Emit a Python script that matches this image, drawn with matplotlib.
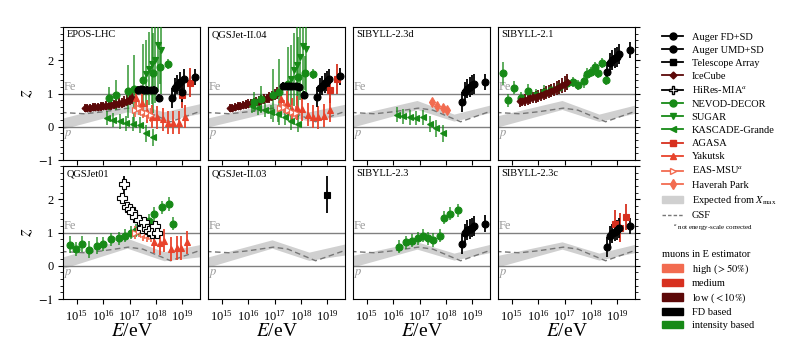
import numpy as np
import matplotlib
matplotlib.use("Agg")
import matplotlib.pyplot as plt
from matplotlib.lines import Line2D
from matplotlib.patches import Patch
from matplotlib.ticker import MultipleLocator, NullLocator, LogLocator

plt.rcParams['font.family'] = ['Liberation Serif', 'DejaVu Serif']
plt.rcParams['mathtext.fontset'] = 'stix'

# ---------------- data (log10 E/eV, z, error) ----------------
models = ['EPOS-LHC', 'QGSJet-II.04', 'SIBYLL-2.3d', 'SIBYLL-2.1',
          'QGSJet01', 'QGSJet-II.03', 'SIBYLL-2.3', 'SIBYLL-2.3c']

# expected from Xmax band (per model) and GSF
band_lgE = [14.4, 16.9, 18.3, 19.8]
band_lo = {
    'EPOS-LHC': [-0.08, 0.45, 0.18, 0.42],
    'QGSJet-II.04': [-0.02, 0.45, 0.17, 0.36],
    'SIBYLL-2.3d': [-0.02, 0.52, 0.17, 0.45],
    'SIBYLL-2.1': [-0.02, 0.52, 0.16, 0.43],
    'QGSJet01': [-0.1, 0.53, 0.15, 0.28],
    'QGSJet-II.03': [-0.06, 0.53, 0.16, 0.34],
    'SIBYLL-2.3': [-0.05, 0.5, 0.17, 0.42],
    'SIBYLL-2.3c': [-0.05, 0.5, 0.17, 0.42],
}
band_hi = {
    'EPOS-LHC': [0.25, 0.75, 0.45, 0.72],
    'QGSJet-II.04': [0.25, 0.72, 0.45, 0.7],
    'SIBYLL-2.3d': [0.33, 0.79, 0.38, 0.68],
    'SIBYLL-2.1': [0.32, 0.79, 0.38, 0.68],
    'QGSJet01': [0.25, 0.83, 0.42, 0.66],
    'QGSJet-II.03': [0.25, 0.78, 0.41, 0.68],
    'SIBYLL-2.3': [0.3, 0.72, 0.38, 0.67],
    'SIBYLL-2.3c': [0.3, 0.72, 0.38, 0.67],
}
gsf_lgE = [14.4, 15.3, 16.0, 16.95, 17.5, 18.55, 19.8]
gsf_z = [0.43, 0.39, 0.45, 0.56, 0.5, 0.15, 0.5]

# IceCube
icecube_lgE = [15.3, 15.4, 15.5, 15.6, 15.7, 15.8, 15.9, 16.0, 16.1, 16.2,
               16.3, 16.4, 16.5, 16.6, 16.7, 16.8, 16.9, 17.0, 17.1]
icecube_z_epos = [0.56, 0.56, 0.57, 0.58, 0.59, 0.60, 0.61, 0.62, 0.63, 0.64,
                  0.65, 0.67, 0.68, 0.70, 0.72, 0.75, 0.78, 0.82, 0.86]
icecube_z_qgs4 = [0.55, 0.57, 0.59, 0.61, 0.63, 0.65, 0.67, 0.69, 0.71, 0.73,
                  0.75, 0.77, 0.80, 0.82, 0.85, 0.88, 0.92, 0.96, 1.01]
icecube_z_sib21 = [0.76, 0.78, 0.80, 0.83, 0.85, 0.88, 0.90, 0.93, 0.96, 0.99,
                   1.02, 1.05, 1.09, 1.12, 1.16, 1.20, 1.25, 1.30, 1.35]
icecube_err = [0.12, 0.12, 0.12, 0.12, 0.12, 0.12, 0.13, 0.13, 0.13, 0.13,
               0.14, 0.14, 0.14, 0.15, 0.15, 0.16, 0.16, 0.17, 0.18]
icecube_err_sib21 = [0.17, 0.17, 0.17, 0.17, 0.17, 0.17, 0.18, 0.18, 0.18, 0.18,
                     0.2, 0.2, 0.2, 0.21, 0.21, 0.22, 0.22, 0.24, 0.25]

# Auger UMD+SD
umd_lgE = [17.3, 17.42, 17.55, 17.67, 17.8, 17.92, 18.12]
umd_z_epos = [1.12, 1.13, 1.12, 1.12, 1.11, 1.10, 0.87]
umd_z_qgs4 = [1.23, 1.24, 1.24, 1.23, 1.22, 1.21, 0.95]
umd_err = [0.12, 0.1, 0.1, 0.1, 0.1, 0.12, 0.12]

# Auger FD+SD
fdsd_lgE = [18.62, 18.71, 18.81, 18.9, 18.97, 19.07, 19.47]
fdsd_z_epos = [0.87, 1.17, 1.27, 1.35, 1.04, 1.43, 1.50]
fdsd_z_qgs4 = [0.89, 1.17, 1.24, 1.32, 1.38, 1.44, 1.52]
fdsd_z_sib23d = [0.74, 1.05, 1.15, 1.19, 1.25, 1.30, 1.35]
fdsd_z_sib21 = [1.64, 1.91, 2.01, 2.08, 2.11, 2.18, 2.31]
fdsd_z_sib23 = [0.65, 0.97, 1.07, 1.11, 1.15, 1.20, 1.27]
fdsd_z_sib23c = [0.57, 0.89, 0.97, 1.03, 1.08, 1.13, 1.19]
fdsd_err = [0.3, 0.3, 0.3, 0.3, 0.3, 0.3, 0.25]

# Telescope Array
ta_lgE = [18.97]
ta_z_qgs3 = [2.14]
ta_err = [0.55]

# HiRes-MIA
hires_lgE = [16.72, 16.8, 16.9, 17.0, 17.1, 17.22, 17.35, 17.45, 17.55, 17.65,
             17.75, 17.85, 17.95, 18.05]
hires_z_qgs01 = [2.05, 2.45, 1.78, 1.72, 1.62, 1.48, 1.38, 1.15, 1.32, 1.1,
                 1.05, 0.98, 1.2, 0.98]
hires_err = [0.15, 0.25, 0.12, 0.12, 0.12, 0.12, 0.12, 0.12, 0.12, 0.12,
             0.12, 0.12, 0.12, 0.12]

# NEVOD-DECOR
nevod_lgE_epos = [16.2, 16.5, 16.95, 17.15, 17.5, 17.9, 18.15, 18.45]
nevod_z_epos = [0.86, 0.95, 1.07, 1.15, 1.4, 1.62, 1.79, 1.9]
nevod_err_epos = [0.35, 0.45, 0.8, 1.0, 1.1, 1.2, 0.5, 0.15]
nevod_lgE_qgs4 = [16.2, 16.5, 16.95, 17.15, 17.5, 17.9, 18.15, 18.45]
nevod_z_qgs4 = [0.75, 0.82, 0.95, 1.05, 1.3, 1.5, 1.62, 1.6]
nevod_err_qgs4 = [0.3, 0.4, 0.8, 1.0, 1.1, 1.2, 0.5, 0.15]
nevod_lgE_sib21 = [14.65, 14.85, 15.09, 15.35, 15.63, 15.9, 16.2, 16.5, 16.8,
                   17.09, 17.32, 17.51, 17.72, 17.85, 18.0, 18.13, 18.25, 18.42, 18.57]
nevod_z_sib21 = [1.61, 0.79, 1.17, 0.85, 1.09, 0.95, 1.05, 1.1, 1.2,
                 1.32, 1.35, 1.27, 1.37, 1.58, 1.66, 1.81, 1.63, 1.91, 1.4]
nevod_err_sib21 = [0.35, 0.2, 0.2, 0.2, 0.2, 0.2, 0.2, 0.2, 0.2,
                   0.2, 0.15, 0.15, 0.2, 0.2, 0.15, 0.15, 0.15, 0.15, 0.15]
nevod_lgE_qgs01 = [14.75, 14.96, 15.19, 15.46, 15.75, 16.0, 16.31, 16.59, 16.84,
                   17.05, 17.25, 17.5, 17.75, 17.94, 18.23, 18.5, 18.63]
nevod_z_qgs01 = [0.63, 0.5, 0.65, 0.48, 0.6, 0.65, 0.8, 0.83, 0.9,
                 1.0, 1.05, 1.15, 1.35, 1.56, 1.76, 1.86, 1.27]
nevod_err_qgs01 = [0.25, 0.2, 0.25, 0.25, 0.25, 0.2, 0.2, 0.2, 0.2,
                   0.2, 0.2, 0.2, 0.2, 0.2, 0.2, 0.2, 0.2]
nevod_lgE_sib23 = [16.2, 16.48, 16.71, 16.92, 17.11, 17.3, 17.49, 17.78, 17.91, 18.15, 18.47]
nevod_z_sib23 = [0.57, 0.7, 0.75, 0.83, 0.9, 0.83, 0.77, 0.9, 1.45, 1.57, 1.67]
nevod_err_sib23 = [0.2, 0.2, 0.2, 0.2, 0.2, 0.2, 0.2, 0.2, 0.2, 0.2, 0.2]

# SUGAR
sugar_lgE = [17.6, 17.72, 17.85, 17.97, 18.08, 18.2]
sugar_z_epos = [1.6, 1.75, 1.88, 2.0, 2.45, 2.3]
sugar_z_qgs4 = [1.45, 1.72, 1.85, 2.1, 2.42, 2.35]
sugar_err = [1.0, 1.1, 1.2, 1.3, 1.4, 1.3]

# KASCADE-Grande
kg_lgE = [16.13, 16.38, 16.63, 16.88, 17.13, 17.38, 17.63, 17.88]
kg_z_epos = [0.26, 0.2, 0.16, 0.1, 0.08, 0.05, -0.2, -0.32]
kg_z_qgs4 = [0.62, 0.56, 0.5, 0.44, 0.37, 0.3, 0.16, 0.08]
kg_z_sib23d = [0.36, 0.31, 0.28, 0.26, 0.28, 0.08, -0.05, -0.2]
kg_err = [0.22, 0.22, 0.22, 0.22, 0.22, 0.25, 0.25, 0.25]

# AGASA
agasa_lgE_epos = [19.0, 19.3]
agasa_z_epos = [0.95, 1.33]
agasa_lgE_qgs4 = [19.1, 19.35]
agasa_z_qgs4 = [1.1, 1.45]
agasa_lgE_sib23c = [18.92, 19.1, 19.34]
agasa_z_sib23c = [1.27, 1.15, 1.47]
agasa_err = [0.4, 0.45, 0.4]

# Yakutsk
yak_lgE = [17.25, 17.45, 17.65, 17.85, 18.05, 18.25, 18.45, 18.65, 18.85, 19.1]
yak_z_epos = [0.85, 0.7, 0.45, 0.3, 0.28, 0.22, 0.12, 0.12, 0.12, 0.3]
yak_z_qgs4 = [0.82, 0.72, 0.5, 0.56, 0.53, 0.36, 0.3, 0.28, 0.33, 0.5]
yak_lgE_qgs01 = [17.94, 18.16, 18.31, 18.56, 18.79, 18.96, 19.16]
yak_z_qgs01 = [0.72, 0.67, 0.75, 0.5, 0.53, 0.53, 0.7]
yak_err = [0.35, 0.35, 0.35, 0.35, 0.35, 0.35, 0.35, 0.35, 0.35, 0.35]

# EAS-MSU
msu_lgE = [17.2, 17.35, 17.5, 17.65, 17.8]
msu_z_epos = [0.5, 0.55, 0.45, 0.4, 0.35]
msu_z_qgs4 = [0.55, 0.6, 0.5, 0.45, 0.42]
msu_z_qgs01 = [1.0, 1.05, 0.95, 0.92, 0.9]
msu_err = [0.2, 0.2, 0.2, 0.2, 0.2]

# Haverah Park
hp_lgE = [17.47, 17.66, 17.87, 18.04]
hp_z_sib23d = [0.74, 0.62, 0.55, 0.49]
hp_err = [0.06, 0.06, 0.06, 0.06]

# ---------------- styles ----------------
C_FD = 'black'
C_LOW = '#5c0808'
C_MED = '#d7301f'
C_YAK = '#e8432c'
C_HIGH = '#f26b50'
C_GREEN = '#178a17'

styles = {
    'Auger FD+SD': dict(marker='o', color=C_FD, mfc=C_FD, ms=5),
    'Auger UMD+SD': dict(marker='o', color=C_FD, mfc=C_FD, ms=5),
    'Telescope Array': dict(marker='s', color=C_FD, mfc=C_FD, ms=5),
    'IceCube': dict(marker='D', color=C_LOW, mfc=C_LOW, ms=3.5),
    'HiRes-MIA$^a$': dict(marker='P', color='black', mfc='white', ms=6.5),
    'NEVOD-DECOR': dict(marker='o', color=C_GREEN, mfc=C_GREEN, ms=5),
    'SUGAR': dict(marker='v', color=C_GREEN, mfc=C_GREEN, ms=5),
    'KASCADE-Grande': dict(marker='<', color=C_GREEN, mfc=C_GREEN, ms=5),
    'AGASA': dict(marker='s', color=C_MED, mfc=C_MED, ms=5),
    'Yakutsk': dict(marker='^', color=C_YAK, mfc=C_YAK, ms=5),
    'EAS-MSU$^a$': dict(marker='>', color=C_HIGH, mfc='white', ms=5),
    'Haverah Park': dict(marker='d', color=C_HIGH, mfc=C_HIGH, ms=5),
}

panel_data = {
    'EPOS-LHC': [
        ('IceCube', icecube_lgE, icecube_z_epos, icecube_err),
        ('KASCADE-Grande', kg_lgE, kg_z_epos, kg_err),
        ('NEVOD-DECOR', nevod_lgE_epos, nevod_z_epos, nevod_err_epos),
        ('SUGAR', sugar_lgE, sugar_z_epos, sugar_err),
        ('Yakutsk', yak_lgE, yak_z_epos, yak_err),
        ('EAS-MSU$^a$', msu_lgE, msu_z_epos, msu_err),
        ('AGASA', agasa_lgE_epos, agasa_z_epos, agasa_err[:2]),
        ('Auger UMD+SD', umd_lgE, umd_z_epos, umd_err),
        ('Auger FD+SD', fdsd_lgE, fdsd_z_epos, fdsd_err),
    ],
    'QGSJet-II.04': [
        ('IceCube', icecube_lgE, icecube_z_qgs4, icecube_err),
        ('KASCADE-Grande', kg_lgE, kg_z_qgs4, kg_err),
        ('NEVOD-DECOR', nevod_lgE_qgs4, nevod_z_qgs4, nevod_err_qgs4),
        ('SUGAR', sugar_lgE, sugar_z_qgs4, sugar_err),
        ('Yakutsk', yak_lgE, yak_z_qgs4, yak_err),
        ('EAS-MSU$^a$', msu_lgE, msu_z_qgs4, msu_err),
        ('AGASA', agasa_lgE_qgs4, agasa_z_qgs4, agasa_err[:2]),
        ('Auger UMD+SD', umd_lgE, umd_z_qgs4, umd_err),
        ('Auger FD+SD', fdsd_lgE, fdsd_z_qgs4, fdsd_err),
    ],
    'SIBYLL-2.3d': [
        ('KASCADE-Grande', kg_lgE, kg_z_sib23d, kg_err),
        ('Haverah Park', hp_lgE, hp_z_sib23d, hp_err),
        ('Auger FD+SD', fdsd_lgE, fdsd_z_sib23d, fdsd_err),
    ],
    'SIBYLL-2.1': [
        ('NEVOD-DECOR', nevod_lgE_sib21, nevod_z_sib21, nevod_err_sib21),
        ('IceCube', icecube_lgE, icecube_z_sib21, icecube_err_sib21),
        ('Auger FD+SD', fdsd_lgE, fdsd_z_sib21, fdsd_err),
    ],
    'QGSJet01': [
        ('NEVOD-DECOR', nevod_lgE_qgs01, nevod_z_qgs01, nevod_err_qgs01),
        ('EAS-MSU$^a$', msu_lgE, msu_z_qgs01, msu_err),
        ('Yakutsk', yak_lgE_qgs01, yak_z_qgs01, yak_err[:7]),
        ('HiRes-MIA$^a$', hires_lgE, hires_z_qgs01, hires_err),
    ],
    'QGSJet-II.03': [
        ('Telescope Array', ta_lgE, ta_z_qgs3, ta_err),
    ],
    'SIBYLL-2.3': [
        ('NEVOD-DECOR', nevod_lgE_sib23, nevod_z_sib23, nevod_err_sib23),
        ('Auger FD+SD', fdsd_lgE, fdsd_z_sib23, fdsd_err),
    ],
    'SIBYLL-2.3c': [
        ('AGASA', agasa_lgE_sib23c, agasa_z_sib23c, agasa_err),
        ('Auger FD+SD', fdsd_lgE, fdsd_z_sib23c, fdsd_err),
    ],
}

# ---------------- figure ----------------
W, H = 793, 340
fig = plt.figure(figsize=(W / 100, H / 100), dpi=100)

col_x = [63, 208, 353, 498]
col_w = 137
row_top = [27, 166]
row_h = 133

axes = []
for i, name in enumerate(models):
    r, c = divmod(i, 4)
    ax = fig.add_axes([col_x[c] / W, 1 - (row_top[r] + row_h) / H, col_w / W, row_h / H])
    axes.append(ax)
    ax.set_xscale('log')
    ax.set_xlim(3e14, 4.6e19)
    ax.set_ylim(-1, 3)

    ax.fill_between(10.0 ** np.array(band_lgE), band_lo[name], band_hi[name],
                    color='#d0d0d0', lw=0, zorder=1)
    ax.plot(10.0 ** np.array(gsf_lgE), gsf_z, ls='--', color='#777777', lw=1.0, zorder=2,
            dashes=(4, 2.5))
    ax.axhline(0, color='#808080', lw=1.0, zorder=1.5)
    ax.axhline(1, color='#808080', lw=1.0, zorder=1.5)
    ax.text(3.3e14, 1.03, 'Fe', color='#999999', fontsize=9, va='bottom', ha='left')
    ax.text(3.3e14, -0.04, '$p$', color='#999999', fontsize=9, va='top', ha='left')
    ax.text(0.025, 0.975, name, transform=ax.transAxes, va='top', ha='left', fontsize=7.5)

    for label, lgE, z, err in panel_data[name]:
        st = styles[label]
        xerr = None
        if label == 'Telescope Array':
            E = 10.0 ** np.array(lgE)
            xerr = [E - 10.0 ** (np.array(lgE) - 0.12), 10.0 ** (np.array(lgE) + 0.12) - E]
        is_green = st['color'] == C_GREEN
        eb = ax.errorbar(10.0 ** np.array(lgE), z, yerr=err, xerr=xerr, fmt=st['marker'],
                         color=st['color'], mfc=st['mfc'], mec=st['color'], ms=st['ms'],
                         ecolor=st['color'], elinewidth=1.3, capsize=0, zorder=4,
                         mew=0.8)
        if is_green:
            for coll in eb[2]:
                coll.set_alpha(0.75)

    for sp in ax.spines.values():
        sp.set_linewidth(0.8)
    ax.xaxis.set_major_locator(LogLocator(base=10, numticks=20))
    ax.xaxis.set_minor_locator(NullLocator())
    ax.set_xticks([1e15, 1e16, 1e17, 1e18, 1e19])
    ax.yaxis.set_major_locator(MultipleLocator(1))
    ax.yaxis.set_minor_locator(MultipleLocator(0.2))
    ax.tick_params(which='major', length=3.5, width=0.8, labelsize=9)
    ax.tick_params(which='minor', length=2, width=0.6)
    if r == 0:
        ax.tick_params(labelbottom=False)
    else:
        ax.set_xlabel('$E$/eV', fontsize=14, labelpad=0)
    if c == 0:
        ax.set_ylabel('$z$', fontsize=14, labelpad=2)
        ax.set_yticks([-1, 0, 1, 2])
        ax.set_yticklabels(['$-1$', '0', '1', '2'])
    elif c == 3:
        ax.yaxis.tick_right()
        ax.tick_params(axis='y', which='both', labelright=False)
    else:
        ax.tick_params(axis='y', which='both', left=False, labelleft=False)

# ---------------- legends ----------------
leg_labels = ['Auger FD+SD', 'Auger UMD+SD', 'Telescope Array', 'IceCube', 'HiRes-MIA$^a$',
              'NEVOD-DECOR', 'SUGAR', 'KASCADE-Grande', 'AGASA', 'Yakutsk',
              'EAS-MSU$^a$', 'Haverah Park']
handles = []
for lab in leg_labels:
    st = styles[lab]
    handles.append(Line2D([], [], color=st['color'], marker=st['marker'], mfc=st['mfc'],
                          mec=st['color'], ms=min(st['ms'], 5.5), lw=1.3))
handles.append(Patch(color='#d0d0d0'))
handles.append(Line2D([], [], color='#777777', ls='--', lw=1.0, dashes=(2.5, 1.5)))
labels = leg_labels + ['Expected from $X_\\mathrm{max}$', 'GSF']
leg1 = fig.legend(handles, labels, loc='upper left', bbox_to_anchor=(654 / W, 1 - 24 / H),
                  frameon=False, fontsize=7.5, handlelength=2.0, handletextpad=0.8,
                  labelspacing=0.36, borderpad=0.3)
fig.text(673 / W, 1 - 228 / H, '$^a$ not energy-scale corrected', fontsize=5, va='center')

mu_handles = [Patch(color=C_HIGH), Patch(color=C_MED), Patch(color=C_LOW),
              Patch(color='black'), Patch(color=C_GREEN)]
mu_labels = ['high ($>50\\%$)', 'medium', 'low ($<10\\%$)', 'FD based', 'intensity based']
leg2 = fig.legend(mu_handles, mu_labels, loc='upper left', bbox_to_anchor=(654 / W, 1 - 242 / H),
                  frameon=False, fontsize=7.5, handlelength=2.0, handletextpad=0.8,
                  labelspacing=0.3, borderpad=0.3, title='muons in E estimator',
                  title_fontsize=7.5)
leg2._legend_box.align = 'left'

fig.savefig('out.png', dpi=100)
